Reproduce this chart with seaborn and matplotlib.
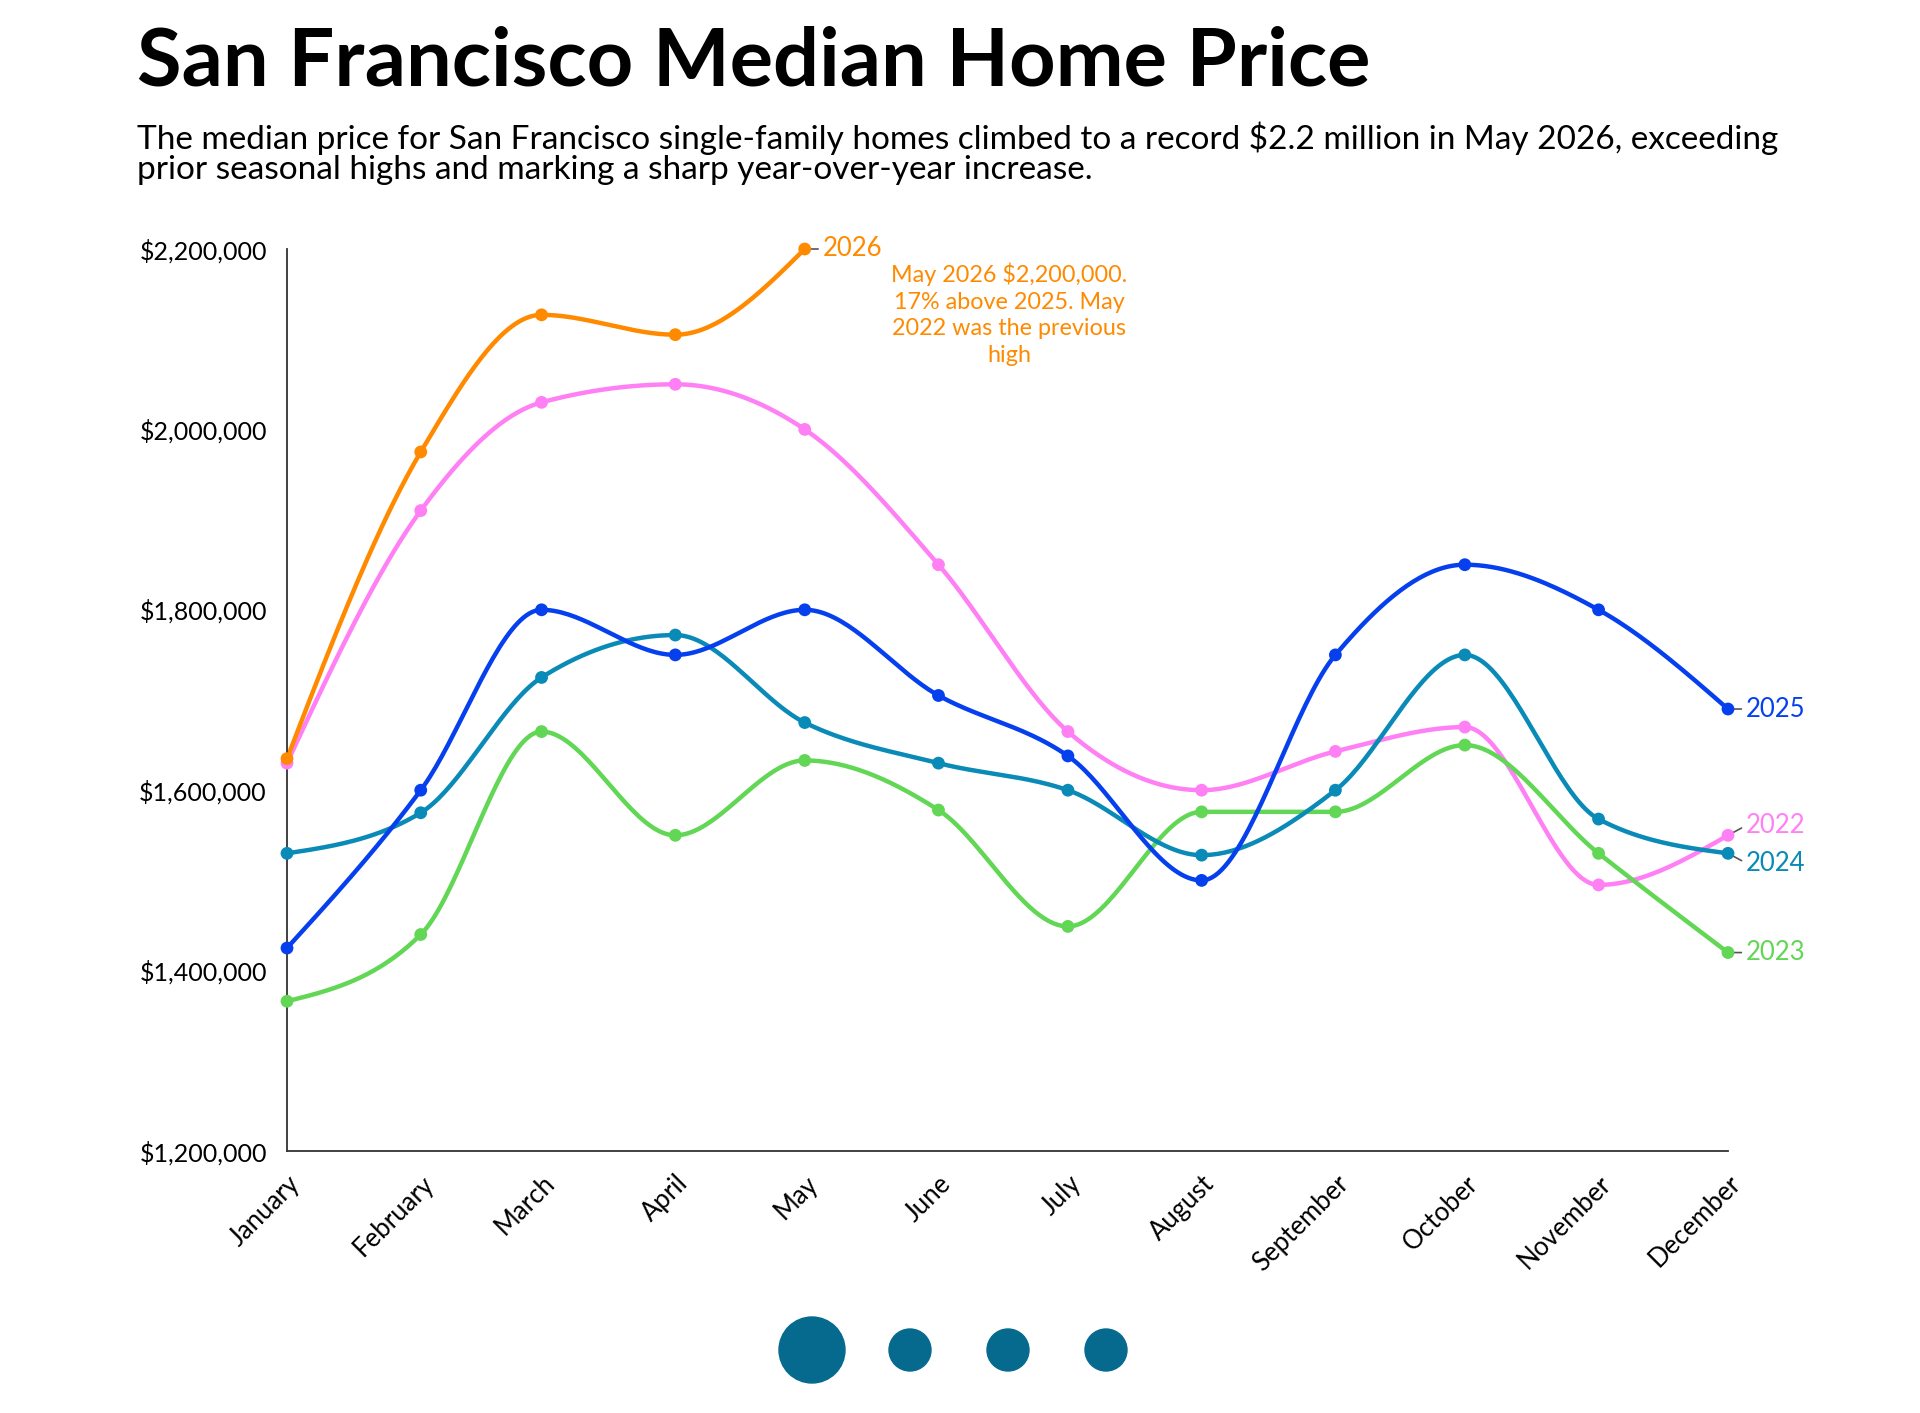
import numpy as np
import pandas as pd
import matplotlib
matplotlib.use("Agg")
import matplotlib.pyplot as plt
from matplotlib.patches import Circle
import seaborn as sns

months = ["January", "February", "March", "April", "May", "June",
          "July", "August", "September", "October", "November", "December"]

price_2022 = [1630000, 1910000, 2030000, 2050000, 2000000, 1850000,
              1665000, 1600000, 1643000, 1670000, 1495000, 1550000]
price_2023 = [1366000, 1440000, 1665000, 1550000, 1633000, 1578000,
              1449000, 1576000, 1576000, 1650000, 1530000, 1420000]
price_2024 = [1530000, 1575000, 1725000, 1772000, 1675000, 1630000,
              1600000, 1528000, 1600000, 1750000, 1568000, 1530000]
price_2025 = [1425000, 1600000, 1800000, 1750000, 1800000, 1705000,
              1638000, 1500000, 1750000, 1850000, 1800000, 1690000]
price_2026 = [1635000, 1975000, 2127000, 2105000, 2200000]

years = ["2022", "2023", "2024", "2025", "2026"]
series = [price_2022, price_2023, price_2024, price_2025, price_2026]
colors = {"2022": "#ff80f4", "2023": "#62d655", "2024": "#0a8ab6",
          "2025": "#0640ee", "2026": "#ff8a00"}
label_shift = {"2022": 7, "2023": 0, "2024": -7, "2025": 0, "2026": 0}

y_ticks = [1200000, 1400000, 1600000, 1800000, 2000000, 2200000]

annotation = "May 2026 $2,200,000.\n17% above 2025. May\n2022 was the previous\nhigh"
title = "San Francisco Median Home Price"
subtitle = ["The median price for San Francisco single-family homes climbed to a record $2.2 million in May 2026, exceeding",
            "prior seasonal highs and marking a sharp year-over-year increase."]

# x is a time scale: first day of each month (non-leap year), in days from Jan 1
month_start = pd.date_range("2023-01-01", periods=12, freq="MS")
month_x = np.asarray((month_start - month_start[0]).days, float)


def monotone_curve(x, y, n=40):
    # same shape as d3.curveMonotoneX
    x = np.asarray(x, float)
    y = np.asarray(y, float)
    h = np.diff(x)
    s = np.diff(y) / h
    t = np.zeros(len(x))
    for i in range(1, len(x) - 1):
        p = (s[i - 1] * h[i] + s[i] * h[i - 1]) / (h[i - 1] + h[i])
        t[i] = (np.sign(s[i - 1]) + np.sign(s[i])) * min(abs(s[i - 1]), abs(s[i]), 0.5 * abs(p))
    t[0] = (3 * s[0] - t[1]) / 2
    t[-1] = (3 * s[-1] - t[-2]) / 2
    xs, ys = [], []
    for i in range(len(x) - 1):
        u = np.linspace(0, 1, n, endpoint=(i == len(x) - 2))
        h00 = 2 * u**3 - 3 * u**2 + 1
        h10 = u**3 - 2 * u**2 + u
        h01 = -2 * u**3 + 3 * u**2
        h11 = u**3 - u**2
        xs.append(x[i] + u * h[i])
        ys.append(h00 * y[i] + h10 * h[i] * t[i] + h01 * y[i + 1] + h11 * h[i] * t[i + 1])
    return np.concatenate(xs), np.concatenate(ys)


points = []
curves = []
for yr, vals in zip(years, series):
    mx = month_x[:len(vals)]
    points.append(pd.DataFrame({"day": mx, "price": vals, "year": yr}))
    cx, cy = monotone_curve(mx, vals)
    curves.append(pd.DataFrame({"day": cx, "price": cy, "year": yr}))
points = pd.concat(points, ignore_index=True)
curves = pd.concat(curves, ignore_index=True)

sns.set_style("white")
plt.rcParams["font.family"] = ["Lato", "DejaVu Sans"]
plt.rcParams["text.color"] = "black"

fig = plt.figure(figsize=(19.2, 14.13), dpi=100)
ax = fig.add_axes([287 / 1920, 1 - 1151 / 1413, 1441 / 1920, 902 / 1413])

sns.lineplot(data=curves, x="day", y="price", hue="year", palette=colors,
             sort=False, estimator=None, linewidth=3.2, legend=False, ax=ax,
             clip_on=False)
sns.scatterplot(data=points, x="day", y="price", hue="year", palette=colors,
                s=85, linewidth=0, legend=False, ax=ax, zorder=5, clip_on=False)

ax.set_xlim(month_x[0], month_x[-1])
ax.set_ylim(y_ticks[0], y_ticks[-1])
ax.set_xticks(month_x)
ax.set_xticklabels(months, rotation=45, ha="right", va="center",
                   rotation_mode="anchor", fontsize=18.5)
ax.set_yticks(y_ticks)
ax.set_yticklabels([f"${v:,.0f}" for v in y_ticks], fontsize=18)
ax.set_xlabel("")
ax.set_ylabel("")
for side in ["top", "right"]:
    ax.spines[side].set_visible(False)
for side in ["left", "bottom"]:
    ax.spines[side].set_color("#333333")
    ax.spines[side].set_linewidth(1.3)
ax.tick_params(axis="both", length=8.5, width=1.3, color="#333333", labelcolor="black")
ax.tick_params(axis="y", pad=6)
ax.tick_params(axis="x", pad=12)
for lab in ax.get_xticklabels():
    lab.set_transform(lab.get_transform() + matplotlib.transforms.ScaledTranslation(9 / 100, 0, fig.dpi_scale_trans))

# end-of-line year labels
for yr, vals in zip(years, series):
    ax.annotate(yr, xy=(month_x[len(vals) - 1], vals[-1]), xytext=(13, label_shift[yr]),
                textcoords="offset points", ha="left", va="center",
                fontsize=18.5, color=colors[yr], zorder=4,
                arrowprops=dict(arrowstyle="-", color="#555555", lw=1.2,
                                shrinkA=1, shrinkB=4, relpos=(0, 0.5)),
                annotation_clip=False)

ax.annotate(annotation, xy=(month_x[4], price_2026[4]), xytext=(147, -10),
            textcoords="offset points", ha="center", va="top",
            fontsize=16.8, color="#ff8a00", linespacing=1.32)

fig.text(137 / 1920, 1 - 86 / 1413, title, fontsize=58.5, fontweight="bold",
         va="baseline", ha="left", color="black")
fig.text(137 / 1920, 1 - 149 / 1413, subtitle[0], fontsize=24, va="baseline", ha="left", color="black")
fig.text(137 / 1920, 1 - 179 / 1413, subtitle[1], fontsize=24, va="baseline", ha="left", color="black")

# carousel dots
dots = fig.add_axes([0, 0, 1, 1], zorder=-1)
dots.set_xlim(0, 1920)
dots.set_ylim(1413, 0)
dots.axis("off")
for cx, r in [(812, 33), (910, 21), (1008, 21), (1106, 21)]:
    dots.add_patch(Circle((cx, 1350), r, color="#066a8e"))

fig.savefig("out.png", dpi=100, facecolor="white")
